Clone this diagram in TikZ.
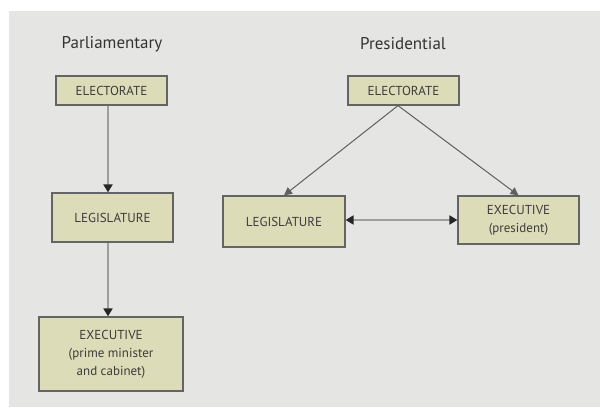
\documentclass[tikz,border=0pt]{standalone}
\usepackage{fontspec}
\setmainfont{PT Sans}
\usetikzlibrary{arrows.meta}
\definecolor{bgc}{RGB}{229,230,228}
\definecolor{boxc}{RGB}{221,220,184}
\definecolor{edgec}{RGB}{100,100,100}
\definecolor{txtc}{RGB}{60,60,60}
\definecolor{linec}{RGB}{95,95,95}
\begin{document}
\begin{tikzpicture}[x=1pt,y=-1pt,
  govbox/.style={draw=edgec, line width=1.2pt, fill=boxc, text=txtc, inner sep=0pt,
    align=center, font=\fontsize{13}{18}\selectfont},
  title/.style={text=txtc!85!black, font=\fontsize{17}{20}\selectfont},
  conn/.style={draw=linec, line width=1pt, -{Triangle[length=8pt,width=8pt]}},
  vconn/.style={draw=gray!75, line width=2pt, -{Triangle[length=8pt,width=9pt,fill=black!85,color=black!85]}},
  dconn/.style={draw=gray!75, line width=2pt, {Triangle[length=8pt,width=9pt,fill=black!85,color=black!85]}-{Triangle[length=8pt,width=9pt,fill=black!85,color=black!85]}}]
\useasboundingbox (0,0) rectangle (600,409);
\fill[bgc] (9,11) rectangle (600,407);
% Parliamentary
\node[title] (pt) at (112,44) {Parliamentary};
\node[govbox, minimum width=111pt, minimum height=29pt] (pE) at (111.5,90.5) {ELECTORATE};
\node[govbox, minimum width=121pt, minimum height=49pt] (pL) at (112.5,217.5) {LEGISLATURE};
\node[govbox, minimum width=144pt, minimum height=74pt] (pX) at (111,354) {EXECUTIVE\\(prime minister\\and cabinet)};
\draw[vconn] (pE.south -| 108,0) -- (pL.north -| 108,0);
\draw[vconn] (pL.south -| 108,0) -- (pX.north -| 108,0);
% Presidential
\node[title] (rt) at (403,44) {Presidential};
\node[govbox, minimum width=111pt, minimum height=29pt] (rE) at (403.5,90.5) {ELECTORATE};
\node[govbox, minimum width=122pt, minimum height=51pt] (rL) at (284,221.5) {LEGISLATURE};
\node[govbox, minimum width=121pt, minimum height=48pt] (rX) at (518.5,220) {EXECUTIVE\\(president)};
\draw[conn] (rE.south -| 398,0) -- (rL.north);
\draw[conn] (rE.south -| 398,0) -- (rX.north);
\draw[dconn] (rL.east |- 0,220) -- (rX.west |- 0,220);
\end{tikzpicture}
\end{document}
